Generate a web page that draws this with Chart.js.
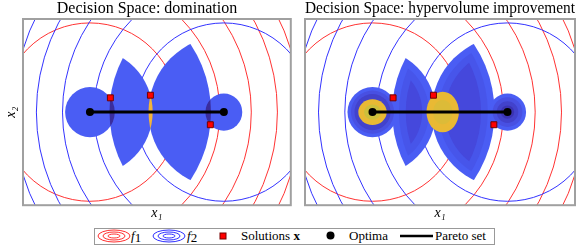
<!DOCTYPE html>
<html>
<head>
<meta charset="utf-8">
<script src="https://cdn.jsdelivr.net/npm/chart.js@4.4.0/dist/chart.umd.min.js"></script>
<style>
  body { margin: 0; background: #fff; width: 581px; height: 247px; overflow: hidden; position: relative; font-family: 'Liberation Serif', serif; }
  #left { position: absolute; left: 0; top: 0; }
  #right { position: absolute; left: 296px; top: 0; }
  #legend { position: absolute; left: 94px; top: 228px; width: 401px; height: 17px; box-sizing: border-box; border: 1.5px solid #999; }
  #legend span, #legend svg { position: absolute; }
  #legend span { top: -1px; font-size: 13px; line-height: 16px; white-space: nowrap; color: #000; }
  .it { font-style: italic; }
  .sub { font-size: 9px; vertical-align: -2px; }
</style>
</head>
<body>
<canvas id="left" width="296" height="222"></canvas>
<canvas id="right" width="285" height="222"></canvas>

<div id="legend">
  <svg style="left:2px;top:0" width="36" height="14" viewBox="0 0 36 14">
    <g fill="none" stroke="#ff3030" stroke-width="1">
      <ellipse cx="17" cy="7" rx="16" ry="6"/><ellipse cx="17" cy="7" rx="11" ry="4"/><ellipse cx="17" cy="7" rx="6" ry="2"/>
    </g>
  </svg>
  <span style="left:36px"><span class="it" style="position:static">f</span><span class="sub" style="position:static">1</span></span>
  <svg style="left:57px;top:0" width="36" height="14" viewBox="0 0 36 14">
    <g fill="none" stroke="#3030ff" stroke-width="1">
      <ellipse cx="17" cy="7" rx="16" ry="6"/><ellipse cx="17" cy="7" rx="11" ry="4"/><ellipse cx="17" cy="7" rx="6" ry="2"/>
    </g>
  </svg>
  <span style="left:92px"><span class="it" style="position:static">f</span><span class="sub" style="position:static">2</span></span>
  <svg style="left:124px;top:3px" width="8" height="8"><rect x="1" y="1" width="6" height="6" fill="#ff0000" stroke="#700" stroke-width="1"/></svg>
  <span style="left:146px">Solutions <b>x</b></span>
  <svg style="left:231px;top:2px" width="9" height="9"><circle cx="4.5" cy="4.5" r="4" fill="#000"/></svg>
  <span style="left:254px">Optima</span>
  <svg style="left:305px;top:5px" width="34" height="4"><line x1="0" y1="2" x2="33" y2="2" stroke="#000" stroke-width="2.5"/></svg>
  <span style="left:340px">Pareto set</span>
</div>

<script>
// optima of f1 and f2 (decision space)
const optimaX = [-1, 1];
const optimaY = [0, 0];
// candidate solutions
const solX = [-0.695, -0.097, 0.798];
const solY = [0.211, 0.25, -0.187];
// contour levels of f1 / f2 (radius around each optimum)
const contourRadii = [1.32, 1.94, 2.41, 2.80, 3.14];
// hypervolume-improvement peaks (right panel)
const hviPeakX = [-1.0, 0.04];
const hviPeakY = [0, 0];
const hviPeakRx = [0.21, 0.24];
const hviPeakRy = [0.19, 0.30];

const serif = "'Liberation Serif', serif";
const BLUE = '#4a5df4';
const DARK = '#3a2d9d';
const YELLOW = '#f3b43a';

const dist = (ax, ay, bx, by) => Math.hypot(ax - bx, ay - by);
const d1 = solX.map((x, i) => dist(x, solY[i], optimaX[0], optimaY[0]));
const d2 = solX.map((x, i) => dist(x, solY[i], optimaX[1], optimaY[1]));

function ellPath(ctx, chart, cx, cy, rX, rY) {
    const xs = chart.scales.x, ys = chart.scales.y;
    const px = xs.getPixelForValue(cx), py = ys.getPixelForValue(cy);
    const rx = Math.abs(xs.getPixelForValue(cx + rX) - px);
    const ry = Math.abs(ys.getPixelForValue(cy + rY) - py);
    ctx.beginPath();
    ctx.ellipse(px, py, rx, ry, 0, 0, Math.PI * 2);
}

// fill the intersection of several discs [cx, cy, r]
function fillDiscs(ctx, chart, discs, color) {
    ctx.save();
    for (let i = 0; i < discs.length - 1; i++) {
        const d = discs[i];
        ellPath(ctx, chart, d[0], d[1], d[2], d[2]);
        ctx.clip();
    }
    const last = discs[discs.length - 1];
    ellPath(ctx, chart, last[0], last[1], last[2], last[2]);
    ctx.fillStyle = color;
    ctx.fill();
    ctx.restore();
}

// non-dominated regions built from the solutions, with an optional shrink
function regions(shrink) {
    const o1 = [optimaX[0], optimaY[0]], o2 = [optimaX[1], optimaY[1]];
    const n = solX.length;
    const out = [];
    out.push([[o1[0], o1[1], d1[0] - shrink]]);
    for (let i = 0; i < n - 1; i++) {
        out.push([[o2[0], o2[1], d2[i] - shrink], [o1[0], o1[1], d1[i + 1] - shrink]]);
    }
    out.push([[o2[0], o2[1], d2[n - 1] - shrink]]);
    return out;
}

const shapesPlugin = {
    id: 'shapes',
    beforeDatasetsDraw(chart, args, opts) {
        const ctx = chart.ctx;
        const a = chart.chartArea;
        ctx.save();
        ctx.beginPath();
        ctx.rect(a.left, a.top, a.right - a.left, a.bottom - a.top);
        ctx.clip();

        // contours
        ctx.lineWidth = 1;
        [['#ff3333', 0], ['#3333ff', 1]].forEach(([col, k]) => {
            ctx.strokeStyle = col;
            contourRadii.forEach(r => {
                ellPath(ctx, chart, optimaX[k], optimaY[k], r, r);
                ctx.stroke();
            });
        });

        const base = regions(0);
        base.forEach(reg => fillDiscs(ctx, chart, reg, BLUE));

        if (opts.mode === 'dom') {
            const domColors = [DARK, YELLOW, DARK];
            solX.forEach((x, i) => {
                fillDiscs(ctx, chart, [[optimaX[0], optimaY[0], d1[i]], [optimaX[1], optimaY[1], d2[i]]], domColors[i]);
            });
        } else {
            // inner levels of the wings
            const wingLevels = [[0.1, '#4755ea'], [0.2, '#4548dc']];
            wingLevels.forEach(([s, col]) => {
                const regs = regions(s);
                regs.slice(1, -1).forEach(reg => fillDiscs(ctx, chart, reg, col));
            });
            // rings in the end discs
            const ringA = [[0.86, '#4850e2'], [0.72, '#4242cc']];
            ringA.forEach(([f, col]) => fillDiscs(ctx, chart, [[optimaX[0], optimaY[0], d1[0] * f]], col));
            const ringD = [[0.8, '#4850e2'], [0.58, '#4242cc'], [0.36, '#3b33b2']];
            ringD.forEach(([f, col]) => fillDiscs(ctx, chart, [[optimaX[1], optimaY[1], d2[2] * f]], col));
            // peaks
            hviPeakX.forEach((x, i) => {
                ellPath(ctx, chart, x, hviPeakY[i], hviPeakRx[i], hviPeakRy[i]);
                ctx.fillStyle = '#e9b934';
                ctx.fill();
                ellPath(ctx, chart, x, hviPeakY[i], hviPeakRx[i] * 0.6, hviPeakRy[i] * 0.6);
                ctx.fillStyle = i === 0 ? '#cdbf3c' : '#dcbb38';
                ctx.fill();
            });
        }
        ctx.restore();
    },
    afterDraw(chart) {
        const ctx = chart.ctx;
        const a = chart.chartArea;
        ctx.save();
        ctx.strokeStyle = '#a0a0a0';
        ctx.lineWidth = 2;
        ctx.strokeRect(a.left, a.top, a.right - a.left, a.bottom - a.top);
        ctx.restore();
    }
};

function makeChart(id, title, mode, showY, pad) {
    return new Chart(document.getElementById(id), {
        type: 'scatter',
        data: {
            datasets: [
                {
                    data: solX.map((x, i) => ({ x: x, y: solY[i] })),
                    pointStyle: 'rect',
                    pointRadius: 4.2,
                    backgroundColor: '#ff0000',
                    borderColor: '#700000',
                    borderWidth: 1
                },
                {
                    data: optimaX.map((x, i) => ({ x: x, y: optimaY[i] })),
                    pointStyle: 'circle',
                    pointRadius: 4,
                    backgroundColor: '#000',
                    borderColor: '#000',
                    borderWidth: 0
                },
                {
                    data: optimaX.map((x, i) => ({ x: x, y: optimaY[i] })),
                    showLine: true,
                    borderColor: '#000',
                    borderWidth: 3,
                    pointRadius: 0
                }
            ]
        },
        options: {
            responsive: false,
            animation: false,
            devicePixelRatio: 1,
            events: [],
            layout: { padding: pad },
            plugins: {
                legend: { display: false },
                tooltip: { enabled: false },
                title: {
                    display: true,
                    text: title,
                    color: '#000',
                    font: { family: serif, size: 16, weight: 'normal', lineHeight: 1.15 },
                    padding: { top: 0, bottom: 0.6 }
                },
                shapes: { mode: mode }
            },
            scales: {
                x: {
                    type: 'linear',
                    min: -2,
                    max: 2,
                    grid: { display: false, drawTicks: false },
                    border: { display: false },
                    ticks: { display: false },
                    title: {
                        display: true,
                        text: 'x₁',
                        color: '#000',
                        font: { family: serif, size: 14, style: 'italic' },
                        padding: { top: 0, bottom: 0 }
                    }
                },
                y: {
                    type: 'linear',
                    min: -1.378,
                    max: 1.378,
                    display: showY,
                    grid: { display: false, drawTicks: false },
                    border: { display: false },
                    ticks: { display: false },
                    title: {
                        display: true,
                        text: 'x₂',
                        color: '#000',
                        font: { family: serif, size: 14, style: 'italic' },
                        padding: { top: 1.6, bottom: 3.6 }
                    }
                }
            }
        },
        plugins: [shapesPlugin]
    });
}

makeChart('left', 'Decision Space: domination', 'dom', true, { left: 1, right: 3, top: 0, bottom: 0 });
makeChart('right', 'Decision Space: hypervolume improvement', 'hvi', false, { left: 9, right: 6, top: 0, bottom: 0 });
</script>
</body>
</html>
